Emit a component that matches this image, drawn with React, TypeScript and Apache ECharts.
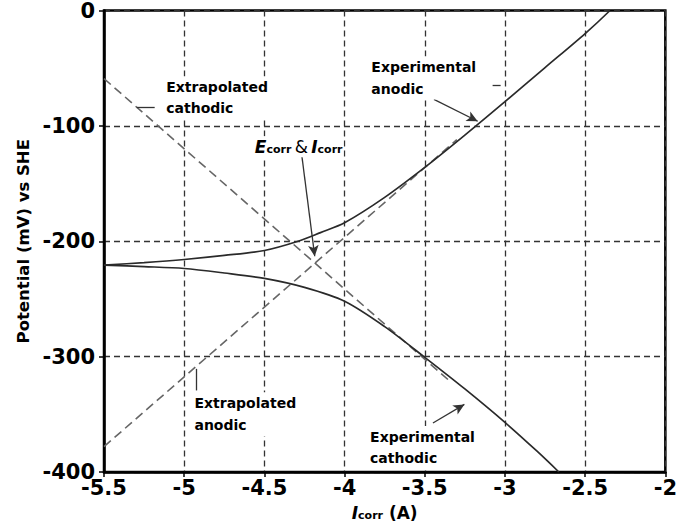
import React, { useEffect, useRef } from 'react';
import * as echarts from 'echarts';

// ---- data (x = log Icorr, y = potential in mV vs SHE) ----
const experimentalAnodic: [number, number][] = [
  [-5.5, -220.7], [-5.25, -218.5], [-5.0, -215.8], [-4.75, -212.3], [-4.5, -208],
  [-4.29, -200], [-4.15, -192.5], [-4.0, -184], [-3.75, -162], [-3.5, -136],
  [-3.25, -108], [-3.0, -79], [-2.75, -49.5], [-2.5, -20], [-2.345, 0],
];
const experimentalCathodic: [number, number][] = [
  [-5.5, -220.7], [-5.25, -222], [-5.0, -223.6], [-4.75, -227.5], [-4.5, -232.2],
  [-4.25, -240], [-4.0, -252], [-3.75, -274], [-3.5, -300.6], [-3.25, -328],
  [-3.0, -357], [-2.8, -382], [-2.664, -400],
];
const extrapolatedCathodic: [number, number][] = [[-5.5, -59], [-3.35, -320.5]];
const extrapolatedAnodic: [number, number][] = [[-5.5, -378], [-3.3, -112]];

const xMin = -5.5, xMax = -2, xStep = 0.5;
const yMin = -400, yMax = 0, yStep = 100;

// annotation texts: top-left anchor in data coordinates
const annotationTexts = [
  { text: 'Extrapolated\ncathodic', at: [-5.112, -57.3], lineHeight: 21 },
  { text: 'Extrapolated\nanodic', at: [-4.936, -330.8], lineHeight: 22 },
  { text: 'Experimental\nanodic', at: [-3.833, -39.8], lineHeight: 21.5 },
  { text: 'Experimental\ncathodic', at: [-3.841, -360.2], lineHeight: 21.5 },
];
const ecorrLabelAt: [number, number] = [-4.566, -118.1];

// leader lines / arrows in data coordinates
const leaders: { from: [number, number]; to: [number, number]; arrow: boolean }[] = [
  { from: [-4.271, -121], to: [-4.186, -213], arrow: true },
  { from: [-3.443, -77], to: [-3.17, -96], arrow: true },
  { from: [-3.449, -357.5], to: [-3.253, -341.4], arrow: true },
  { from: [-5.296, -83.6], to: [-5.184, -83.6], arrow: false },
  { from: [-4.926, -310.6], to: [-4.926, -329.3], arrow: false },
  { from: [-3.077, -64.7], to: [-3.027, -64.7], arrow: false },
];

const FONT = '"DejaVu Sans", Verdana, sans-serif';

export default function App() {
  const ref = useRef<HTMLDivElement>(null);
  useEffect(() => {
    document.body.style.margin = '0';
    if (!ref.current) return;
    const chart = echarts.init(ref.current, undefined, { renderer: 'svg' });
    const option: any = {
      animation: false,
      backgroundColor: '#fff',
      grid: {
        left: 104, right: 11, top: 8, bottom: 57,
        show: true, borderColor: '#000', borderWidth: 2.5,
      },
      xAxis: {
        type: 'value', min: xMin, max: xMax, interval: xStep,
        name: '{i|I}{s|corr}{n| (A)}',
        nameLocation: 'middle', nameGap: 32,
        nameTextStyle: {
          rich: {
            i: { fontFamily: FONT, fontSize: 17, fontWeight: 'bold', fontStyle: 'italic', color: '#000', verticalAlign: 'bottom' },
            s: { fontFamily: FONT, fontSize: 11, fontWeight: 'bold', color: '#000', verticalAlign: 'bottom' },
            n: { fontFamily: FONT, fontSize: 17, fontWeight: 'bold', color: '#000', verticalAlign: 'bottom' },
          },
        },
        axisLine: { show: true, onZero: false, lineStyle: { color: '#000', width: 2.5 } },
        axisTick: { show: true, inside: false, length: 5, lineStyle: { color: '#000', width: 1.5 } },
        axisLabel: { fontFamily: FONT, fontSize: 21, fontWeight: 'bold', color: '#000', margin: 8, lineHeight: 15 },
        splitLine: { show: true, lineStyle: { color: '#333', width: 1.3, type: [6, 4] } },
      },
      yAxis: {
        type: 'value', min: yMin, max: yMax, interval: yStep,
        name: 'Potential (mV) vs SHE',
        nameLocation: 'middle', nameGap: 72,
        nameTextStyle: { fontFamily: FONT, fontSize: 16.5, fontWeight: 'bold', color: '#000' },
        axisLine: { show: true, onZero: false, lineStyle: { color: '#000', width: 2.5 } },
        axisTick: { show: true, inside: false, length: 5, lineStyle: { color: '#000', width: 1.5 } },
        axisLabel: { fontFamily: FONT, fontSize: 21, fontWeight: 'bold', color: '#000', margin: 9, lineHeight: 15 },
        splitLine: { show: true, lineStyle: { color: '#333', width: 1.3, type: [6, 4] } },
      },
      series: [
        {
          name: 'Extrapolated cathodic', type: 'line', data: extrapolatedCathodic,
          showSymbol: false, symbol: 'none', z: 3,
          lineStyle: { color: '#666', width: 1.6, type: [9, 5] },
        },
        {
          name: 'Extrapolated anodic', type: 'line', data: extrapolatedAnodic,
          showSymbol: false, symbol: 'none', z: 3,
          lineStyle: { color: '#666', width: 1.6, type: [9, 5] },
        },
        {
          name: 'Experimental cathodic', type: 'line', data: experimentalCathodic,
          showSymbol: false, symbol: 'none', smooth: 0.3, z: 4,
          lineStyle: { color: '#2a2a2a', width: 1.7 },
        },
        {
          name: 'Experimental anodic', type: 'line', data: experimentalAnodic,
          showSymbol: false, symbol: 'none', smooth: 0.3, z: 4,
          lineStyle: { color: '#2a2a2a', width: 1.7 },
          markLine: {
            silent: true, animation: false,
            label: { show: false },
            lineStyle: { color: '#333', width: 1.3, type: 'solid' },
            data: leaders.map((l) => [
              { coord: l.from, symbol: 'none' },
              { coord: l.to, symbol: l.arrow ? 'arrow' : 'none', symbolSize: [8, 11] },
            ]),
          },
        },
      ],
    };
    chart.setOption(option);

    const graphic: any[] = annotationTexts.map((a) => {
      const p = chart.convertToPixel({ gridIndex: 0 }, a.at) as number[];
      return {
        type: 'text', x: p[0], y: p[1], z: 10,
        style: {
          text: a.text,
          font: `bold 14px ${FONT}`,
          fill: '#000',
          lineHeight: a.lineHeight,
          align: 'left', verticalAlign: 'top',
          backgroundColor: '#fff',
        },
      };
    });
    const ep = chart.convertToPixel({ gridIndex: 0 }, ecorrLabelAt) as number[];
    graphic.push({
      type: 'text', x: ep[0], y: ep[1], z: 10,
      style: {
        text: '{e|E}{s|corr} {a|&} {e|I}{s|corr}',
        align: 'left', verticalAlign: 'middle',
        backgroundColor: '#fff',
        padding: [2, 1],
        rich: {
          e: { fontFamily: FONT, fontSize: 17, fontWeight: 'bold', fontStyle: 'italic', fill: '#000', verticalAlign: 'bottom' },
          s: { fontFamily: FONT, fontSize: 11, fontWeight: 'bold', fill: '#000', verticalAlign: 'bottom' },
          a: { fontFamily: FONT, fontSize: 17, fontWeight: 'normal', fill: '#000', verticalAlign: 'bottom' },
        },
      },
    });
    chart.setOption({ graphic });

    return () => chart.dispose();
  }, []);
  return <div ref={ref} style={{ width: 680, height: 529 }} />;
}
